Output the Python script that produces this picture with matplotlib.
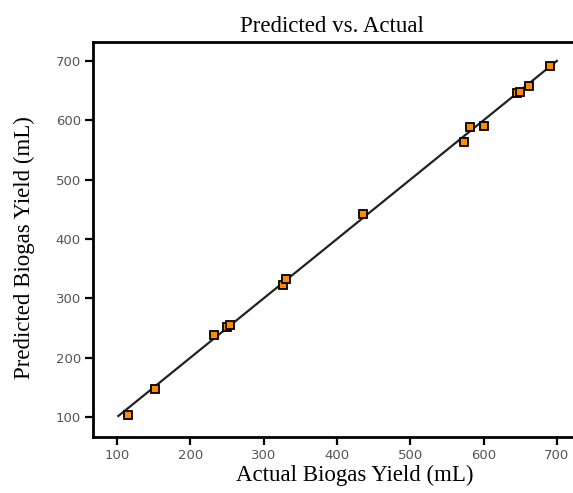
import numpy as np
import matplotlib.pyplot as plt

# actual vs. model-predicted biogas yield (mL)
actual = [115, 152, 232, 250, 254, 327, 330, 436, 574, 582, 601, 645, 650, 662, 691]
predicted = [104, 147, 239, 252, 256, 322, 333, 442, 563, 589, 591, 646, 647, 657, 692]
ticks = [100, 200, 300, 400, 500, 600, 700]

fig = plt.figure(figsize=(5.73, 4.93), dpi=100)
ax = fig.add_axes([0.163, 0.114, 0.86, 0.801])

# y = x reference line
fit = np.array([102, 700])
ax.plot(fit, fit, color='#222222', linewidth=1.6, zorder=2)
ax.plot(actual, predicted, linestyle='none', marker='s', markersize=6.3,
        markerfacecolor='#ff8c00', markeredgecolor='black', markeredgewidth=1.3, zorder=3)

ax.set_xlim(68, 740)
ax.set_ylim(67, 732)
ax.set_xticks(ticks)
ax.set_yticks(ticks)

for side in ['top', 'left', 'bottom']:
    ax.spines[side].set_linewidth(2)
ax.spines['right'].set_visible(False)
ax.tick_params(direction='out', length=6, width=1.6, colors='black',
               labelcolor='#555555', labelsize=9.5, pad=3)
for lbl in ax.get_xticklabels() + ax.get_yticklabels():
    lbl.set_family('DejaVu Sans')

serif = 'Liberation Serif'
ax.set_title('Predicted vs. Actual', family=serif, fontsize=16.5, pad=7, x=0.485)
ax.set_xlabel('Actual Biogas Yield (mL)', family=serif, fontsize=16.5)
ax.xaxis.set_label_coords(0.53, -0.072)
ax.set_ylabel('Predicted Biogas Yield (mL)', family=serif, fontsize=16.5)
ax.yaxis.set_label_coords(-0.118, 0.478)

fig.savefig('out.png', dpi=100)
